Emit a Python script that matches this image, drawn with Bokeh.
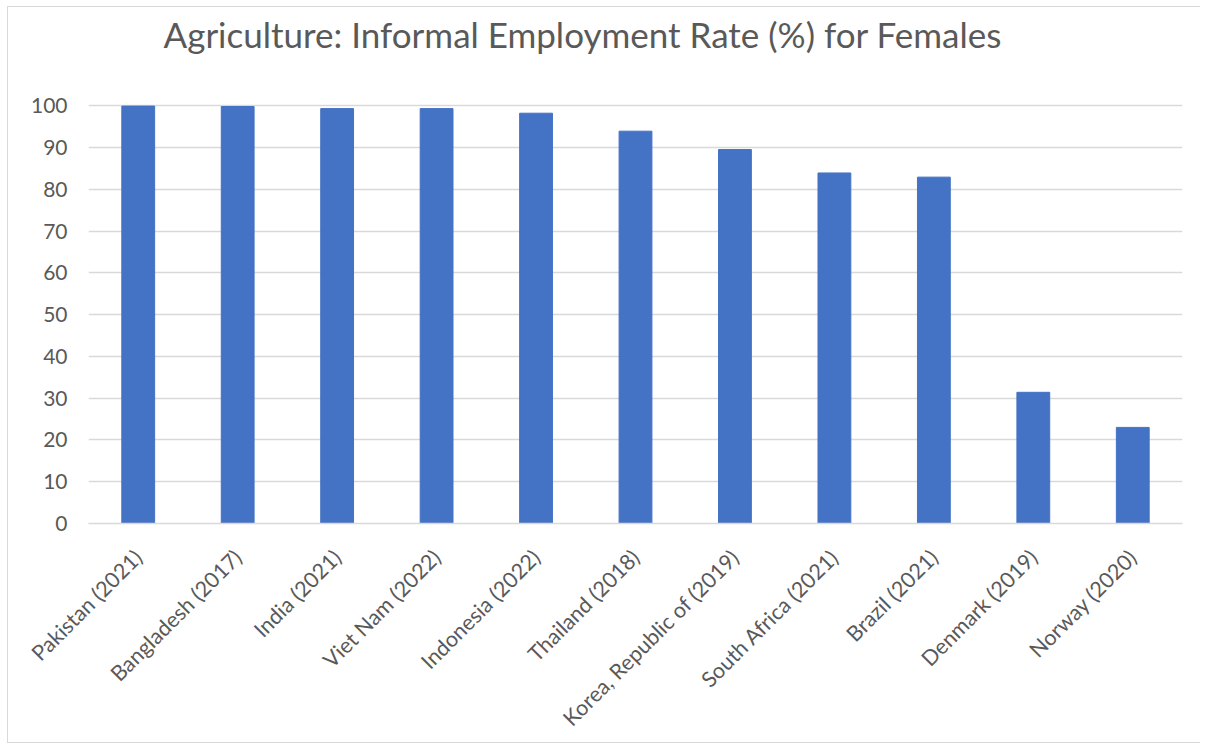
import math
from bokeh.plotting import figure
from bokeh.models import Range1d, InlineStyleSheet, FixedTicker
from bokeh.core.properties import value
from bokeh.embed import file_html
from bokeh.resources import INLINE

countries = ["Pakistan (2021)", "Bangladesh (2017)", "India (2021)", "Viet Nam (2022)",
             "Indonesia (2022)", "Thailand (2018)", "Korea, Republic of (2019)",
             "South Africa (2021)", "Brazil (2021)", "Denmark (2019)", "Norway (2020)"]
rates = [99.9, 99.8, 99.3, 99.3, 98.2, 93.9, 89.5, 83.9, 82.9, 31.4, 23.0]
y_ticks = [0, 10, 20, 30, 40, 50, 60, 70, 80, 90, 100]
title_text = "Agriculture: Informal Employment Rate (%) for Females"

FONT = "Lato"
TXT = "#595959"
GRID = "#d9d9d9"

# frame extends above 100 so that the title can sit inside it
p = figure(x_range=countries, y_range=Range1d(0, 123.5), width=1193, height=737,
           output_backend="svg", toolbar_location=None,
           min_border_left=80, min_border_right=19, min_border_top=0, min_border_bottom=221)
p.stylesheets = [InlineStyleSheet(css=":host { box-sizing: border-box; margin-left: 7px; margin-top: 6px; border-left: 1px solid #d9d9d9; border-top: 1px solid #d9d9d9; border-bottom: 1px solid #d9d9d9; }")]

p.vbar(x=countries, top=rates, width=0.33, fill_color="#4472C4", line_color="#4472C4")

p.text(x=[0.754], y=[117.1], text=[title_text], text_font=value(FONT),
       text_font_size="35px", text_color=TXT, text_baseline="alphabetic", text_align="left")

p.outline_line_color = None
p.xgrid.grid_line_color = None
p.ygrid.grid_line_color = GRID
p.ygrid.grid_line_width = 1.5

p.yaxis.ticker = FixedTicker(ticks=y_ticks)
p.yaxis.axis_line_color = None
p.yaxis.major_tick_line_color = None
p.yaxis.minor_tick_line_color = None
p.yaxis.major_label_standoff = 15
p.yaxis.major_label_text_font = FONT
p.yaxis.major_label_text_font_size = "21px"
p.yaxis.major_label_text_color = TXT

p.xaxis.axis_line_color = GRID
p.xaxis.axis_line_width = 1.5
p.xaxis.major_tick_line_color = None
p.xaxis.minor_tick_line_color = None
p.xaxis.major_label_orientation = math.pi / 4
p.xaxis.major_label_standoff = 24
p.xaxis.major_label_text_font = FONT
p.xaxis.major_label_text_font_size = "21.5px"
p.xaxis.major_label_text_color = TXT

p.x_range.range_padding = 0

open("out.html", "w").write(file_html(p, INLINE))
